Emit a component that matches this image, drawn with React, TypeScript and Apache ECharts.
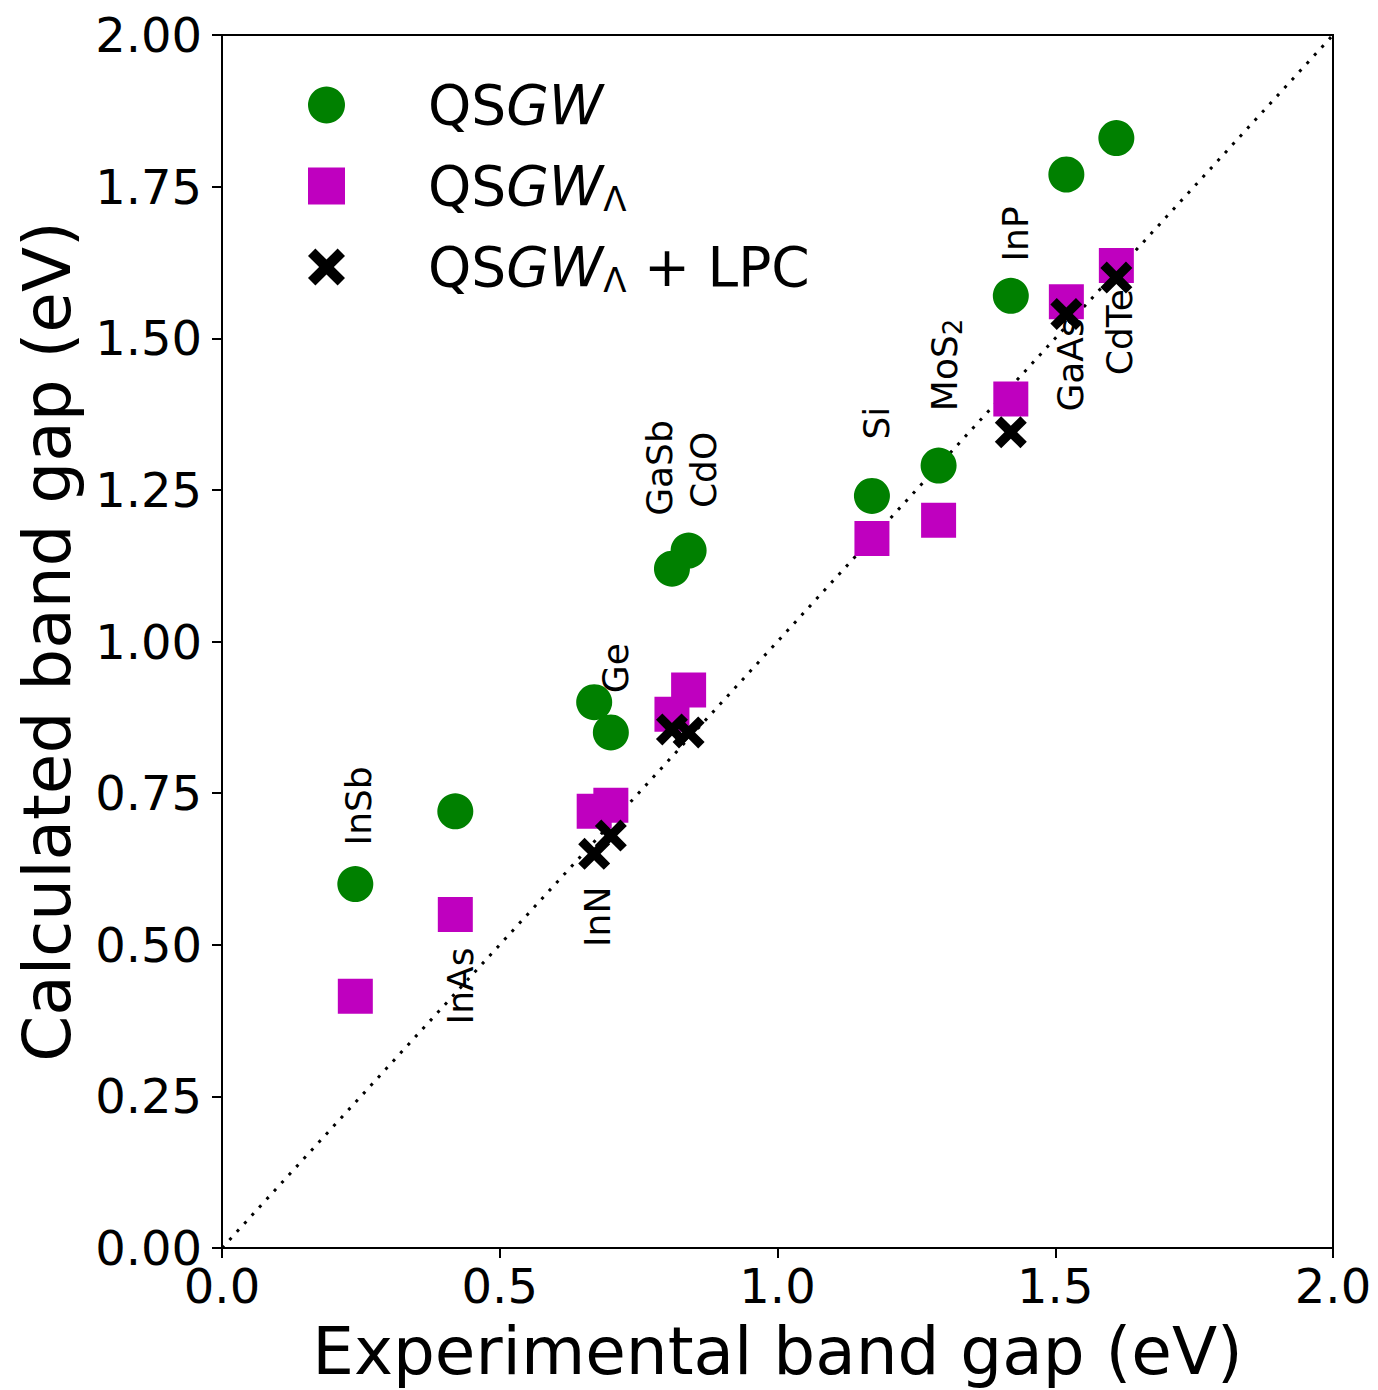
import React, { useEffect, useRef } from "react";
import * as echarts from "echarts";

const FONT = "DejaVu Sans";

// Experimental (x) vs calculated (y) band gaps, eV
const qsgwPoints: number[][] = [
  [0.24, 0.60], [0.42, 0.72], [0.67, 0.90], [0.70, 0.85], [0.81, 1.12], [0.84, 1.15],
  [1.17, 1.24], [1.29, 1.29], [1.42, 1.57], [1.52, 1.77], [1.61, 1.83],
];
const qsgwLambdaPoints: number[][] = [
  [0.24, 0.415], [0.42, 0.55], [0.67, 0.72], [0.70, 0.73], [0.81, 0.88], [0.84, 0.92],
  [1.17, 1.17], [1.29, 1.20], [1.42, 1.40], [1.52, 1.56], [1.61, 1.62],
];
const lpcPoints: number[][] = [
  [0.67, 0.65], [0.70, 0.68], [0.81, 0.855], [0.84, 0.85],
  [1.42, 1.345], [1.52, 1.54], [1.61, 1.60],
];
const diagonal: number[][] = [[0, 0], [2, 2]];

// Material annotations (rotated text), anchored at text centres in data units
const labelNames = ["InSb", "InAs", "InN", "Ge", "GaSb", "CdO", "Si", "MoS2", "InP", "GaAs", "CdTe"];
const labelX = [0.245, 0.429, 0.676, 0.709, 0.788, 0.867, 1.178, 1.301, 1.429, 1.528, 1.616];
const labelY = [0.729, 0.432, 0.546, 0.956, 1.286, 1.283, 1.360, 1.456, 1.672, 1.456, 1.510];

const xTicks = [0, 0.5, 1.0, 1.5, 2.0];
const yTicks = [0, 0.25, 0.5, 0.75, 1.0, 1.25, 1.5, 1.75, 2.0];

const seriesNames = ["QSGW", "QSGWΛ", "QSGWΛ + LPC"];
const legendRich: Record<string, string> = {
  "QSGW": "{n|QS}{i|GW}",
  "QSGWΛ": "{n|QS}{i|GW}{s|Λ}",
  "QSGWΛ + LPC": "{n|QS}{i|GW}{s|Λ}{n| + LPC}",
};

const CROSS =
  "path://M2,0 L5,3 L8,0 L10,2 L7,5 L10,8 L8,10 L5,7 L2,10 L0,8 L3,5 L0,2 Z";

export default function App() {
  const ref = useRef<HTMLDivElement>(null);
  useEffect(() => {
    if (!ref.current) return;
    const chart = echarts.init(ref.current, undefined, { renderer: "svg" });
    const labelData = labelNames.map((n, i) => [labelX[i], labelY[i], n]);
    chart.setOption({
      animation: false,
      backgroundColor: "#fff",
      grid: {
        left: 222,
        right: 45,
        top: 35,
        bottom: 142,
        show: true,
        borderColor: "#000",
        borderWidth: 2,
        backgroundColor: "transparent",
      },
      legend: {
        orient: "vertical",
        left: 308,
        top: 75,
        padding: 0,
        itemWidth: 37,
        itemHeight: 37,
        itemGap: 21,
        selectedMode: false,
        data: [
          { name: seriesNames[0], icon: "circle", itemStyle: { color: "#008000" } },
          { name: seriesNames[1], icon: "rect", itemStyle: { color: "#bf00bf" } },
          { name: seriesNames[2], icon: CROSS, itemStyle: { color: "#000" } },
        ],
        formatter: (name: string) => legendRich[name] ?? name,
        textStyle: {
          fontFamily: FONT,
          fontSize: 55,
          color: "#000",
          padding: [0, 0, 0, 78],
          lineHeight: 60,
          rich: {
            n: { fontFamily: FONT, fontSize: 55, color: "#000", lineHeight: 60 },
            i: { fontFamily: FONT, fontSize: 55, fontStyle: "italic", color: "#000", lineHeight: 60 },
            s: { fontFamily: FONT, fontSize: 34, color: "#000", lineHeight: 30, verticalAlign: "bottom" },
          },
        },
      },
      xAxis: {
        type: "value",
        min: xTicks[0],
        max: xTicks[xTicks.length - 1],
        interval: 0.5,
        name: "Experimental band gap (eV)",
        nameLocation: "middle",
        nameGap: 70,
        nameTextStyle: { fontFamily: FONT, fontSize: 66, color: "#000" },
        axisLine: { show: true, lineStyle: { color: "#000", width: 2 } },
        axisTick: { show: true, inside: false, length: 10, lineStyle: { color: "#000", width: 2 } },
        axisLabel: {
          fontFamily: FONT,
          fontSize: 48,
          color: "#000",
          margin: 14,
          formatter: (v: number) => v.toFixed(1),
        },
        splitLine: { show: false },
      },
      yAxis: {
        type: "value",
        min: yTicks[0],
        max: yTicks[yTicks.length - 1],
        interval: 0.25,
        name: "Calculated band gap (eV)",
        nameLocation: "middle",
        nameGap: 142,
        nameTextStyle: { fontFamily: FONT, fontSize: 66, color: "#000" },
        axisLine: { show: true, lineStyle: { color: "#000", width: 2 } },
        axisTick: { show: true, inside: false, length: 10, lineStyle: { color: "#000", width: 2 } },
        axisLabel: {
          fontFamily: FONT,
          fontSize: 48,
          color: "#000",
          margin: 20,
          formatter: (v: number) => v.toFixed(2),
        },
        splitLine: { show: false },
      },
      series: [
        {
          type: "line",
          name: "diag",
          data: diagonal,
          symbol: "none",
          silent: true,
          z: 1,
          lineStyle: { color: "#000", width: 3, type: [3, 8] },
        },
        {
          type: "scatter",
          name: seriesNames[0],
          data: qsgwPoints,
          symbol: "circle",
          symbolSize: 36,
          itemStyle: { color: "#008000", opacity: 1 },
          z: 3,
        },
        {
          type: "scatter",
          name: seriesNames[1],
          data: qsgwLambdaPoints,
          symbol: "rect",
          symbolSize: 35,
          itemStyle: { color: "#bf00bf", opacity: 1 },
          z: 4,
        },
        {
          type: "scatter",
          name: seriesNames[2],
          data: lpcPoints,
          symbol: CROSS,
          symbolSize: 32,
          itemStyle: { color: "#000", opacity: 1 },
          z: 5,
        },
        {
          type: "scatter",
          name: "labels",
          data: labelData,
          symbolSize: 0,
          silent: true,
          z: 6,
          itemStyle: { color: "#000", opacity: 1 },
          label: {
            show: true,
            position: "inside",
            rotate: 90,
            align: "center",
            verticalAlign: "middle",
            fontFamily: FONT,
            fontSize: 36,
            color: "#000",
            textBorderWidth: 0,
            opacity: 1,
            formatter: (p: any) =>
              p.data[2] === "MoS2" ? "{a|MoS}{b|2}" : `{a|${p.data[2]}}`,
            rich: {
              a: { fontFamily: FONT, fontSize: 36, color: "#000", textBorderWidth: 0 },
              b: { fontFamily: FONT, fontSize: 26, color: "#000", textBorderWidth: 0, padding: [16, 0, 0, 0] },
            },
          },
        },
      ],
    });
    return () => chart.dispose();
  }, []);
  return (
    <div
      ref={ref}
      style={{ position: "absolute", left: 0, top: 0, width: 1378, height: 1390 }}
    />
  );
}
